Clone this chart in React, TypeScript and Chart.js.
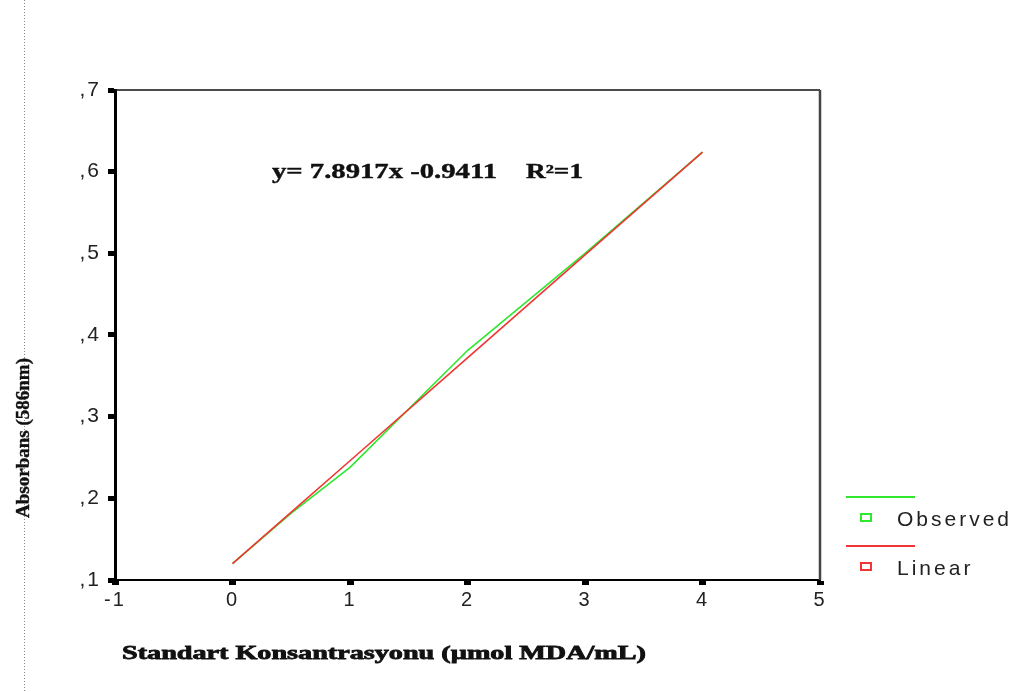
import React, { useEffect, useRef } from "react";
import { Chart, registerables } from "chart.js";

Chart.register(...registerables);

const xValues = [0, 0.5, 1, 2, 3, 4];
const observedValues = [0.12, 0.182, 0.238, 0.381, 0.5, 0.624];
const linearValues = [0.12, 0.183, 0.246, 0.372, 0.498, 0.624];
const xTicks = [-1, 0, 1, 2, 3, 4, 5];
const yTickLabels = [",1", ",2", ",3", ",4", ",5", ",6", ",7"];
const xTitle = "Standart Konsantrasyonu (\u00b5mol MDA/mL)";
const yTitle = "Absorbans (586nm)";
const equationText = "y= 7.8917x -0.9411";
const r2Text = "R\u00b2=1";
const legendLabels = ["Observed", "Linear"];
const seriesColors = ["#2ee82e", "#f23434"];

function stretchText(ctx: any, text: string, x: number, y: number, width: number, stroke: number) {
  const w = ctx.measureText(text).width;
  ctx.save();
  ctx.translate(x, y);
  ctx.scale(width / w, 1);
  ctx.fillText(text, 0, 0);
  if (stroke > 0) {
    ctx.lineWidth = stroke;
    ctx.strokeStyle = ctx.fillStyle;
    ctx.strokeText(text, 0, 0);
  }
  ctx.restore();
}

const decorPlugin = {
  id: "decor",
  beforeDraw(chart: any) {
    const ctx = chart.ctx;
    ctx.save();
    ctx.fillStyle = "#fff";
    ctx.fillRect(0, 0, chart.width, chart.height);
    ctx.restore();
    ctx.letterSpacing = "2px";
  },
  afterDraw(chart: any) {
    const ctx = chart.ctx;
    const a = chart.chartArea;
    ctx.save();
    ctx.letterSpacing = "0px";
    // top & right frame
    ctx.strokeStyle = "#111";
    ctx.lineWidth = 1.5;
    ctx.beginPath();
    ctx.moveTo(a.left, a.top);
    ctx.lineTo(a.right, a.top);
    ctx.stroke();
    ctx.strokeStyle = "#444";
    ctx.lineWidth = 2.5;
    ctx.beginPath();
    ctx.moveTo(a.right, a.top);
    ctx.lineTo(a.right, a.bottom);
    ctx.stroke();

    // dotted page margin line
    ctx.strokeStyle = "#888";
    ctx.lineWidth = 1;
    ctx.setLineDash([1, 2]);
    ctx.beginPath();
    ctx.moveTo(24.5, 0);
    ctx.lineTo(24.5, chart.height);
    ctx.stroke();
    ctx.setLineDash([]);

    // equation
    ctx.fillStyle = "#111";
    ctx.font = "bold 20px 'Liberation Serif', serif";
    ctx.textBaseline = "middle";
    ctx.textAlign = "left";
    stretchText(ctx, equationText, 272, 173, 225, 0.4);
    stretchText(ctx, r2Text, 526, 173, 57, 0.4);

    // x title (stretched heavy serif)
    ctx.font = "bold 19px 'Liberation Serif', serif";
    stretchText(ctx, xTitle, 122, 654, 524, 0.8);

    // y title
    ctx.save();
    ctx.translate(24, 438);
    ctx.rotate(-Math.PI / 2);
    ctx.textAlign = "center";
    ctx.font = "bold 19px 'Liberation Serif', serif";
    ctx.fillText(yTitle, 0, 0);
    ctx.lineWidth = 0.4;
    ctx.strokeStyle = "#111";
    ctx.strokeText(yTitle, 0, 0);
    ctx.restore();

    // legend
    const rows = [497, 546];
    rows.forEach((ly, i) => {
      ctx.strokeStyle = seriesColors[i];
      ctx.lineWidth = 2;
      ctx.beginPath();
      ctx.moveTo(846, ly);
      ctx.lineTo(915, ly);
      ctx.stroke();
      ctx.strokeRect(861, ly + 17, 10, 7);
      ctx.fillStyle = "#222";
      ctx.font = "21px 'Liberation Sans', Arial, sans-serif";
      ctx.letterSpacing = "3px";
      ctx.textAlign = "left";
      ctx.textBaseline = "middle";
      ctx.fillText(legendLabels[i], 897, ly + 23);
      ctx.letterSpacing = "0px";
    });
    ctx.restore();
  },
};

export default function App() {
  const ref = useRef<HTMLCanvasElement>(null);
  useEffect(() => {
    if (!ref.current) return;
    const chart = new Chart(ref.current, {
      type: "scatter",
      data: {
        datasets: [
          {
            label: legendLabels[0],
            data: xValues.map((x, i) => ({ x, y: observedValues[i] })),
            showLine: true,
            borderColor: seriesColors[0],
            borderWidth: 1.6,
            pointRadius: 0,
            tension: 0,
            order: 1,
          },
          {
            label: legendLabels[1],
            data: xValues.map((x, i) => ({ x, y: linearValues[i] })),
            showLine: true,
            borderColor: seriesColors[1],
            borderWidth: 1.6,
            pointRadius: 0,
            tension: 0,
            order: 0,
          },
        ],
      },
      options: {
        responsive: false,
        animation: false,
        devicePixelRatio: 1,
        layout: { padding: { top: 90, right: 211, left: 0, bottom: 0 } },
        plugins: { legend: { display: false }, tooltip: { enabled: false } },
        scales: {
          x: {
            type: "linear",
            min: xTicks[0],
            max: xTicks[xTicks.length - 1],
            afterBuildTicks: (s: any) => {
              s.ticks = xTicks.map((v) => ({ value: v }));
            },
            afterFit: (s: any) => {
              s.height = 112;
            },
            ticks: {
              color: "#222",
              font: { family: "'Liberation Sans', Arial, sans-serif", size: 20 },
              padding: 3,
              maxRotation: 0,
              callback: (v: any) => String(v),
            },
            grid: {
              drawOnChartArea: false,
              drawTicks: true,
              tickLength: 5,
              tickWidth: 7,
              tickColor: "#000",
            },
            border: { display: true, color: "#000", width: 2 },
          },
          y: {
            type: "linear",
            min: 0.1,
            max: 0.7,
            afterBuildTicks: (s: any) => {
              s.ticks = yTickLabels.map((_, i) => ({ value: (i + 1) / 10 }));
            },
            afterFit: (s: any) => {
              s.width = 115;
            },
            ticks: {
              color: "#222",
              font: { family: "'Liberation Sans', Arial, sans-serif", size: 21 },
              padding: 7,
              callback: (v: any) => yTickLabels[Math.round(v * 10) - 1],
            },
            grid: {
              drawOnChartArea: false,
              drawTicks: true,
              tickLength: 7,
              tickWidth: 5,
              tickColor: "#000",
            },
            border: { display: true, color: "#000", width: 3 },
          },
        },
      },
      plugins: [decorPlugin],
    });
    return () => chart.destroy();
  }, []);
  return (
    <div style={{ position: "fixed", left: 0, top: 0, width: 1031, height: 692, background: "#fff" }}>
      <canvas ref={ref} width={1031} height={692} />
    </div>
  );
}
